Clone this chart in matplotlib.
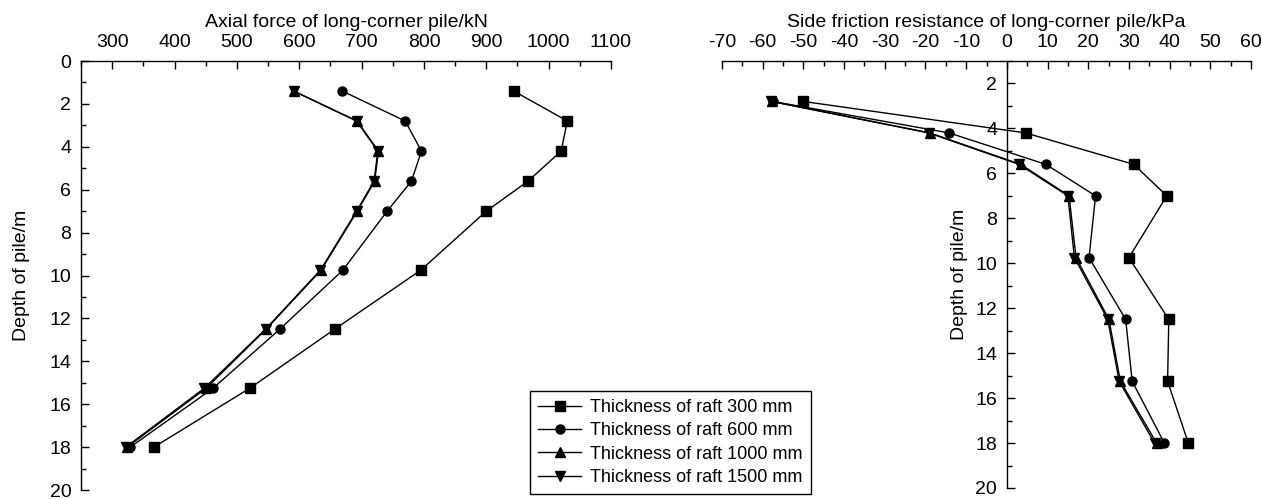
import numpy as np
import matplotlib.pyplot as plt
from matplotlib.ticker import MultipleLocator

plt.rcParams['font.family'] = ['Liberation Sans', 'DejaVu Sans']
plt.rcParams['font.size'] = 14
plt.rcParams['axes.unicode_minus'] = False

# depth of measuring points (m)
depth_force = [1.4, 2.8, 4.2, 5.6, 7.0, 9.75, 12.5, 15.25, 18.0]
depth_fric = [2.8, 4.2, 5.6, 7.0, 9.75, 12.5, 15.25, 18.0]

labels = ['Thickness of raft 300 mm', 'Thickness of raft 600 mm',
          'Thickness of raft 1000 mm', 'Thickness of raft 1500 mm']
markers = ['s', 'o', '^', 'v']

# axial force of long-corner pile (kN)
force_300 = [944, 1030, 1020, 967, 900, 795, 657, 521, 367]
force_600 = [669, 770, 796, 780, 741, 670, 569, 462, 329]
force_1000 = [591, 693, 727, 721, 693, 635, 547, 451, 324]
force_1500 = [591, 692, 726, 720, 692, 634, 546, 448, 322]

# side friction resistance of long-corner pile (kPa)
fric_300 = [-50.0, 4.6, 31.2, 39.3, 30.0, 39.8, 39.5, 44.6]
fric_600 = [-57.5, -14.2, 9.6, 21.8, 20.2, 29.2, 30.8, 38.7]
fric_1000 = [-57.7, -18.9, 3.4, 15.3, 17.0, 25.1, 27.9, 36.8]
fric_1500 = [-57.9, -19.2, 3.0, 15.0, 16.6, 24.8, 27.6, 36.3]

force_series = [force_300, force_600, force_1000, force_1500]
fric_series = [fric_300, fric_600, fric_1000, fric_1500]

fig = plt.figure(figsize=(12.62, 4.99), dpi=100)
ax1 = fig.add_axes([81 / 1262, 9 / 499, 530 / 1262, 429 / 499])
ax2 = fig.add_axes([722 / 1262, 11 / 499, 529 / 1262, 427 / 499])

handles = []
for vals, m, lab in zip(force_series, markers, labels):
    h, = ax1.plot(vals, depth_force, color='black', lw=1.0, marker=m,
                  markersize=6.5, label=lab)
    handles.append(h)
for vals, m in zip(fric_series, markers):
    ax2.plot(vals, depth_fric, color='black', lw=1.0, marker=m, markersize=6.5)

# left panel
ax1.set_xlim(250, 1100)
ax1.set_ylim(20, 0)
ax1.set_xticks(np.arange(300, 1101, 100))
ax1.xaxis.set_minor_locator(MultipleLocator(50))
ax1.set_yticks(np.arange(0, 21, 2))
ax1.yaxis.set_minor_locator(MultipleLocator(1))
ax1.xaxis.tick_top()
ax1.xaxis.set_label_position('top')
ax1.set_xlabel('Axial force of long-corner pile/kN', labelpad=5)
ax1.set_ylabel('Depth of pile/m', labelpad=14)
ax1.spines['right'].set_visible(False)
ax1.spines['bottom'].set_visible(False)

# right panel
ax2.set_xlim(-70, 60)
ax2.set_ylim(20, 1)
ax2.set_xticks(np.arange(-70, 61, 10))
ax2.xaxis.set_minor_locator(MultipleLocator(5))
ax2.set_yticks(np.arange(2, 21, 2))
ax2.yaxis.set_minor_locator(MultipleLocator(1))
ax2.xaxis.tick_top()
ax2.xaxis.set_label_position('top')
ax2.set_xlabel('Side friction resistance of long-corner pile/kPa', labelpad=5)
ax2.set_ylabel('Depth of pile/m', labelpad=5)
ax2.spines['left'].set_position(('data', 0))
ax2.spines['right'].set_visible(False)
ax2.spines['bottom'].set_visible(False)

for ax in (ax1, ax2):
    for sp in ax.spines.values():
        sp.set_linewidth(1.0)
    ax.tick_params(which='both', direction='in', width=1.0, top=True,
                   bottom=False, right=False)
    ax.tick_params(which='major', length=5.5, pad=7)
    ax.tick_params(which='minor', length=3.5)
    ax.set_facecolor('none')

fig.legend(handles=handles, loc='upper left', bbox_to_anchor=(530 / 1262, 1 - 391 / 499),
           borderaxespad=0, fancybox=False, edgecolor='black', framealpha=1,
           handlelength=2.4, fontsize=13, labelspacing=0.35, borderpad=0.45,
           handletextpad=0.5)

fig.savefig('out.png', dpi=100)
